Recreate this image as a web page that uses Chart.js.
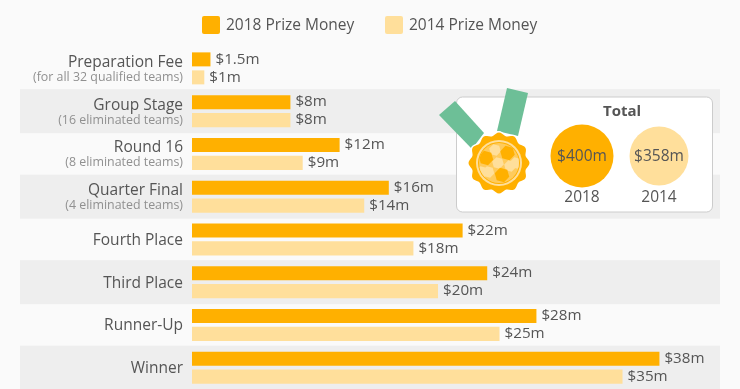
<!DOCTYPE html>
<html>
<head>
<meta charset="utf-8">
<style>
  html, body { margin: 0; padding: 0; background: #fafafa; }
  #wrap { width: 740px; height: 389px; position: relative; }
</style>
</head>
<body>
<div id="wrap"><canvas id="grafico" width="740" height="389"></canvas></div>
<script src="https://cdn.jsdelivr.net/npm/chart.js@4"></script>
<script>
const categories = ['Preparation Fee', 'Group Stage', 'Round 16', 'Quarter Final', 'Fourth Place', 'Third Place', 'Runner-Up', 'Winner'];
const subLabels = ['(for all 32 qualified teams)', '(16 eliminated teams)', '(8 eliminated teams)', '(4 eliminated teams)', '', '', '', ''];
const prize2018 = [1.5, 8, 12, 16, 22, 24, 28, 38];
const prize2014 = [1, 8, 9, 14, 18, 20, 25, 35];
const seriesNames = ['2018 Prize Money', '2014 Prize Money'];
const totalYears = ['2018', '2014'];
const totalLabels = ['$400m', '$358m'];

const color2018 = '#ffb000';
const color2014 = '#ffdf9b';
const textColor = '#555555';
const FONT = '"Open Sans", sans-serif';

function money(v) {
    return '$' + v + 'm';
}

const bandsPlugin = {
    id: 'bands',
    beforeDatasetsDraw(chart) {
        const ctx = chart.ctx;
        const y = chart.scales.y;
        ctx.save();
        ctx.fillStyle = '#eeeeee';
        categories.forEach((c, i) => {
            if (i % 2 === 1) {
                const yc = y.getPixelForValue(i);
                ctx.fillRect(20, yc - 22, 700, 44);
            }
        });
        ctx.restore();
    }
};

const labelsPlugin = {
    id: 'rowLabels',
    afterDatasetsDraw(chart) {
        const ctx = chart.ctx;
        const y = chart.scales.y;
        ctx.save();
        ctx.textAlign = 'right';
        ctx.textBaseline = 'middle';
        categories.forEach((c, i) => {
            const yc = y.getPixelForValue(i);
            if (subLabels[i]) {
                ctx.fillStyle = textColor;
                ctx.font = '15.5px ' + FONT;
                ctx.fillText(c, 183, yc - 6);
                ctx.fillStyle = '#909090';
                ctx.font = '12.4px ' + FONT;
                ctx.fillText(subLabels[i], 183, yc + 9);
            } else {
                ctx.fillStyle = textColor;
                ctx.font = '15.5px ' + FONT;
                ctx.fillText(c, 183, yc + 1);
            }
        });
        // value labels at the bar ends
        ctx.textAlign = 'left';
        ctx.font = '15.2px ' + FONT;
        ctx.fillStyle = textColor;
        chart.data.datasets.forEach((ds, d) => {
            chart.getDatasetMeta(d).data.forEach((bar, i) => {
                ctx.fillText(money(ds.data[i]), bar.x + 5, bar.y);
            });
        });
        ctx.restore();
    }
};

const legendPlugin = {
    id: 'topLegend',
    afterDraw(chart) {
        const ctx = chart.ctx;
        ctx.save();
        ctx.font = '15.5px ' + FONT;
        ctx.textBaseline = 'middle';
        ctx.textAlign = 'left';
        const xs = [202, 385];
        const colors = [color2018, color2014];
        seriesNames.forEach((name, i) => {
            ctx.fillStyle = colors[i];
            ctx.beginPath();
            ctx.roundRect(xs[i], 16, 18, 18, 2);
            ctx.fill();
            ctx.fillStyle = textColor;
            ctx.fillText(name, xs[i] + 24, 26);
        });
        ctx.restore();
    }
};

function poly(ctx, pts, fill, stroke) {
    ctx.fillStyle = fill;
    ctx.beginPath();
    pts.forEach((p, i) => i ? ctx.lineTo(p[0], p[1]) : ctx.moveTo(p[0], p[1]));
    ctx.closePath();
    ctx.fill();
    if (stroke) {
        ctx.strokeStyle = stroke;
        ctx.lineWidth = 1;
        ctx.stroke();
    }
}

function hexagon(ctx, cx, cy, r, fill, stroke) {
    const pts = [];
    for (let i = 0; i < 6; i++) {
        const a = i * Math.PI / 3 + 0.25;
        pts.push([cx + r * Math.cos(a), cy + r * Math.sin(a)]);
    }
    poly(ctx, pts, fill, stroke);
}

function dibujarMedalla(ctx) {
    const cx = 499, cy = 163;
    poly(ctx, [[439, 115], [455, 101], [484, 133], [472, 149]], '#6dbf97');
    poly(ctx, [[507, 88], [528, 93], [518, 136], [497, 131]], '#6dbf97');

    // scalloped rim with a white outline
    const rim = (radius, fill) => {
        const pts = [];
        for (let i = 0; i < 120; i++) {
            const a = i / 120 * Math.PI * 2;
            const r = radius + 1.5 * Math.cos(a * 12);
            pts.push([cx + r * Math.cos(a), cy + r * Math.sin(a)]);
        }
        poly(ctx, pts, fill);
    };
    rim(30.5, '#ffffff');
    rim(29, color2018);

    const disco = (r, fill) => {
        ctx.fillStyle = fill;
        ctx.beginPath();
        ctx.arc(cx, cy, r, 0, Math.PI * 2);
        ctx.fill();
    };
    disco(23, color2014);
    disco(21, color2018);
    disco(20, '#ffcb5c');

    // ball panels
    ctx.save();
    ctx.beginPath();
    ctx.arc(cx, cy, 20, 0, Math.PI * 2);
    ctx.clip();
    hexagon(ctx, cx - 4, cy - 13, 6, color2014);
    hexagon(ctx, cx + 17, cy + 0, 6, color2014);
    hexagon(ctx, cx - 17, cy + 9, 6, color2014);
    hexagon(ctx, cx - 1, cy, 6, color2014);
    hexagon(ctx, cx + 11, cy + 3, 6, color2014);
    hexagon(ctx, cx - 10.5, cy + 9, 6, color2014);
    hexagon(ctx, cx - 13, cy - 5, 7.5, color2018);
    hexagon(ctx, cx + 8.5, cy - 10, 7.5, color2018);
    hexagon(ctx, cx + 3, cy + 12, 7.5, color2018);
    ctx.restore();
}

const totalPlugin = {
    id: 'totalCard',
    afterDraw(chart) {
        const ctx = chart.ctx;
        ctx.save();
        ctx.fillStyle = '#ffffff';
        ctx.strokeStyle = '#cccccc';
        ctx.lineWidth = 1;
        ctx.beginPath();
        ctx.roundRect(456.5, 97, 256, 115, 6);
        ctx.fill();
        ctx.stroke();

        dibujarMedalla(ctx);

        ctx.textAlign = 'center';
        ctx.textBaseline = 'middle';
        ctx.fillStyle = textColor;
        ctx.font = 'bold 15px ' + FONT;
        ctx.fillText('Total', 622, 112);

        const xs = [582, 659];
        const radios = [31.5, 29.5];
        const colors = [color2018, color2014];
        totalYears.forEach((year, i) => {
            ctx.fillStyle = colors[i];
            ctx.beginPath();
            ctx.arc(xs[i], 156, radios[i], 0, Math.PI * 2);
            ctx.fill();
            ctx.fillStyle = textColor;
            ctx.font = '15.5px ' + FONT;
            ctx.fillText(totalLabels[i], xs[i], 156.5);
            ctx.fillText(year, xs[i], 197.5);
        });
        ctx.restore();
    }
};

new Chart(document.getElementById('grafico').getContext('2d'), {
    type: 'bar',
    data: {
        labels: categories,
        datasets: [
            { label: seriesNames[0], data: prize2018, backgroundColor: color2018 },
            { label: seriesNames[1], data: prize2014, backgroundColor: color2014 }
        ]
    },
    options: {
        indexAxis: 'y',
        responsive: false,
        animation: false,
        categoryPercentage: 0.842,
        barPercentage: 0.778,
        layout: { padding: { left: 192, top: 47, right: 0, bottom: 0 } },
        scales: {
            x: { display: false, min: 0, max: 44.55 },
            y: { display: false }
        },
        plugins: {
            legend: { display: false },
            tooltip: { enabled: false }
        }
    },
    plugins: [bandsPlugin, labelsPlugin, legendPlugin, totalPlugin]
});
</script>
</body>
</html>
